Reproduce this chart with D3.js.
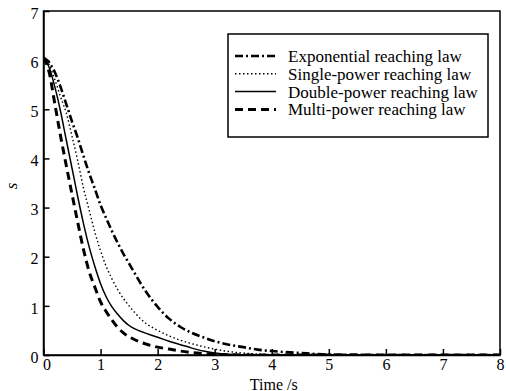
<!DOCTYPE html>
<html>
<head>
<meta charset="utf-8">
<script src="https://cdn.jsdelivr.net/npm/d3@7"></script>
<style>
  body { margin: 0; background: #fff; }
  svg text { font-family: "Liberation Serif", "DejaVu Serif", "Times New Roman", serif !important; }
</style>
</head>
<body>
<script>
// time grid (s) and the four reaching-law curves
var time = [0, 0.1, 0.2, 0.3, 0.4, 0.5, 0.6, 0.7, 0.8, 0.9, 1.0, 1.1, 1.2, 1.3, 1.4, 1.5, 1.6, 1.8, 2.0, 2.2, 2.4, 2.6, 2.8, 3.0, 3.25, 3.5, 3.75, 4.0, 4.5, 5.0, 6.0, 7.0, 8.0];
var expLaw    = [6.05, 5.95, 5.75, 5.45, 5.1, 4.75, 4.42, 4.05, 3.7, 3.38, 3.05, 2.78, 2.52, 2.28, 2.06, 1.86, 1.66, 1.28, 0.98, 0.74, 0.57, 0.45, 0.36, 0.28, 0.21, 0.16, 0.11, 0.08, 0.04, 0.01, 0, 0, 0];
var singleLaw = [6.05, 5.9, 5.6, 5.25, 4.92, 4.45, 3.95, 3.4, 2.95, 2.5, 2.12, 1.8, 1.55, 1.33, 1.15, 1.0, 0.86, 0.64, 0.5, 0.39, 0.3, 0.23, 0.17, 0.12, 0.07, 0.04, 0.02, 0.01, 0, 0, 0, 0, 0];
var doubleLaw = [6.05, 5.85, 5.45, 4.95, 4.37, 3.8, 3.22, 2.68, 2.2, 1.8, 1.45, 1.18, 0.98, 0.83, 0.7, 0.6, 0.53, 0.44, 0.36, 0.28, 0.21, 0.14, 0.08, 0.04, 0.015, 0.005, 0, 0, 0, 0, 0, 0, 0];
var multiLaw  = [6.05, 5.75, 5.1, 4.45, 3.85, 3.27, 2.7, 2.15, 1.7, 1.38, 1.08, 0.88, 0.71, 0.56, 0.45, 0.37, 0.31, 0.22, 0.16, 0.12, 0.08, 0.05, 0.03, 0.015, 0.005, 0, 0, 0, 0, 0, 0, 0, 0];

var seriesNames = ["Exponential reaching law", "Single-power reaching law", "Double-power reaching law", "Multi-power reaching law"];
var xTicks = [0, 1, 2, 3, 4, 5, 6, 7, 8];
var yTicks = [0, 1, 2, 3, 4, 5, 6, 7];

var series = [
  { name: seriesNames[0], values: expLaw,    width: 2.6, dash: "8,3,2,3" },
  { name: seriesNames[1], values: singleLaw, width: 1.4, dash: "1.5,2.5" },
  { name: seriesNames[2], values: doubleLaw, width: 1.5, dash: null },
  { name: seriesNames[3], values: multiLaw,  width: 3,   dash: "8,5" }
];

var width = 506, height = 391;
var margin = { left: 43.5, right: 6, top: 11, bottom: 36 };
var serif = "'Liberation Serif', 'DejaVu Serif', serif";

var svg = d3.select("body").append("svg").attr("width", width).attr("height", height);

var x = d3.scaleLinear().domain([0, 8]).range([margin.left, width - margin.right]);
var y = d3.scaleLinear().domain([0, 7]).range([height - margin.bottom, margin.top]);

var line = d3.line()
  .x(function (d) { return x(d[0]); })
  .y(function (d) { return y(d[1]); })
  .curve(d3.curveMonotoneX);

var plot = svg.append("g");
plot.append("clipPath").attr("id", "clip")
  .append("rect").attr("x", x(0)).attr("y", y(7)).attr("width", x(8) - x(0)).attr("height", y(0) - y(7));

plot.selectAll("path.curve")
  .data(series)
  .enter()
  .append("path")
  .attr("class", "curve")
  .attr("clip-path", "url(#clip)")
  .attr("fill", "none")
  .attr("stroke", "#000")
  .attr("stroke-width", function (d) { return d.width; })
  .attr("stroke-dasharray", function (d) { return d.dash; })
  .attr("d", function (d) {
    return line(time.map(function (t, i) { return [t, d.values[i]]; }));
  });

// frame
svg.append("rect")
  .attr("x", x(0)).attr("y", y(7))
  .attr("width", x(8) - x(0)).attr("height", y(0) - y(7))
  .attr("fill", "none").attr("stroke", "#000").attr("stroke-width", 1.5);

// axes with inward ticks
var xAxis = svg.append("g")
  .attr("transform", "translate(0," + y(0) + ")")
  .call(d3.axisBottom(x).tickValues(xTicks).tickSizeInner(-6).tickSizeOuter(0).tickPadding(4).tickFormat(d3.format("d")));
var yAxis = svg.append("g")
  .attr("transform", "translate(" + x(0) + ",0)")
  .call(d3.axisLeft(y).tickValues(yTicks).tickSizeInner(-6).tickSizeOuter(0).tickPadding(5).tickFormat(d3.format("d")));

[xAxis, yAxis].forEach(function (g) {
  g.attr("font-family", serif);
  g.select(".domain").attr("stroke-width", 1.5);
  g.selectAll(".tick line").attr("stroke-width", 1.5);
  g.selectAll(".tick text").attr("font-size", 16).style("font-family", serif).attr("fill", "#000");
});
xAxis.selectAll(".tick text").filter(function (d) { return d === 0; }).attr("dx", 3);
yAxis.selectAll(".tick text").attr("dy", "0.45em");

svg.append("text")
  .attr("x", (x(0) + x(8)) / 2 + 2).attr("y", 389.5)
  .attr("text-anchor", "middle").attr("font-size", 16).style("font-family", serif)
  .text("Time /s");

svg.append("text")
  .attr("transform", "translate(17," + (y(3.5) + 3) + ") rotate(-90)")
  .attr("text-anchor", "middle").attr("font-size", 17).attr("font-style", "italic").style("font-family", serif)
  .text("s");

// legend
var legend = svg.append("g");
legend.append("rect")
  .attr("x", 228).attr("y", 34).attr("width", 260).attr("height", 103)
  .attr("fill", "#fff").attr("stroke", "#000").attr("stroke-width", 1.5);

var rows = legend.selectAll("g.row")
  .data(series)
  .enter()
  .append("g")
  .attr("class", "row")
  .attr("transform", function (d, i) { return "translate(0," + (56 + i * 17.8) + ")"; });

rows.append("line")
  .attr("x1", 235).attr("x2", 276).attr("y1", 0).attr("y2", 0)
  .attr("stroke", "#000")
  .attr("stroke-width", function (d) { return d.width; })
  .attr("stroke-dasharray", function (d) { return d.dash; });

rows.append("text")
  .attr("x", 288).attr("y", 0).attr("dy", "0.35em")
  .attr("font-size", 17).style("font-family", serif)
  .text(function (d) { return d.name; });
</script>
</body>
</html>
